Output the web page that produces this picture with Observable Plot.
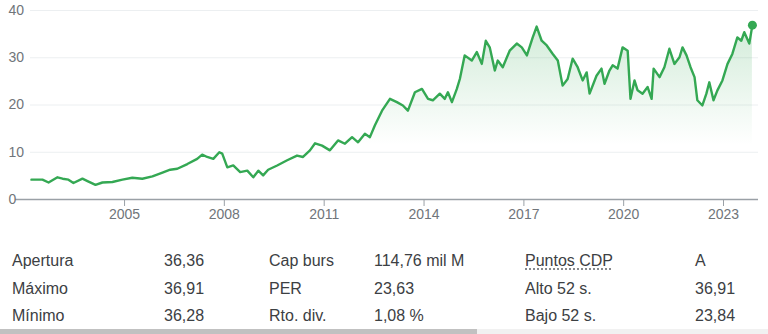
<!DOCTYPE html>
<html><head><meta charset="utf-8">
<script src="https://cdn.jsdelivr.net/npm/d3@7"></script>
<script src="https://cdn.jsdelivr.net/npm/@observablehq/plot@0.6"></script>
<style>
html,body{margin:0;padding:0;background:#fff;width:768px;height:334px;overflow:hidden;font-family:"Liberation Sans",Arial,sans-serif;}
#wrap{position:relative;width:768px;height:334px;}
#chart{position:absolute;left:0;top:0;}
.cell{position:absolute;font-size:16px;line-height:16px;color:#3c4043;white-space:nowrap;}
.dotted{text-decoration:underline dotted #5f6368;text-underline-offset:3px;}
#sb{position:absolute;left:0;top:329px;width:768px;height:5px;background:#f1f1f1;}
#sbt{position:absolute;left:0;top:0;width:477px;height:5px;background:#c1c1c1;}
</style></head>
<body>
<div id="wrap"><div id="chart"></div><div id="table"></div><div id="sb"><div id="sbt"></div></div></div>
<script>
const dates = [
"2002-03-16","2002-07-15","2002-09-20","2002-12-27","2003-02-21","2003-04-26","2003-06-20","2003-09-27","2003-11-21",
"2004-02-17","2004-05-03","2004-08-21","2004-12-09","2005-03-27","2005-07-15","2005-11-03","2006-02-21","2006-05-17",
"2006-08-03","2006-11-21","2007-03-09","2007-05-03","2007-06-27","2007-09-02","2007-11-07","2007-12-09","2008-02-03",
"2008-04-08","2008-06-23","2008-09-09","2008-11-14","2009-01-08","2009-03-02","2009-04-26","2009-08-03","2009-11-21",
"2010-03-09","2010-05-14","2010-07-29","2010-09-23","2010-12-09","2011-03-05","2011-06-02","2011-08-17","2011-11-03",
"2012-01-08","2012-03-23","2012-05-17","2012-07-11","2012-09-27","2012-12-23","2013-03-09","2013-05-14","2013-07-08",
"2013-09-23","2013-12-09","2014-02-14","2014-04-08","2014-06-23","2014-08-17","2014-09-20","2014-11-03","2014-12-27",
"2015-01-29","2015-03-23","2015-06-09","2015-08-03","2015-09-27","2015-11-10","2015-12-23","2016-02-17","2016-03-20",
"2016-05-14","2016-07-29","2016-10-15","2016-12-09","2017-02-03","2017-04-08","2017-05-21","2017-07-15","2017-09-09",
"2017-11-14","2018-01-08","2018-03-02","2018-04-26","2018-06-20","2018-08-14","2018-10-08","2018-11-21","2018-12-23",
"2019-03-09","2019-05-03","2019-06-05","2019-07-29","2019-09-02","2019-10-26","2019-12-20","2020-02-14","2020-03-16",
"2020-04-29","2020-06-02","2020-07-26","2020-09-20","2020-11-03","2020-11-25","2021-01-29","2021-03-23","2021-05-17",
"2021-07-11","2021-09-05","2021-10-08","2021-11-21","2022-01-04","2022-02-17","2022-03-20","2022-05-14","2022-06-27",
"2022-07-29","2022-09-13","2022-10-26","2022-12-20","2023-02-14","2023-04-08","2023-06-02","2023-07-15","2023-08-17",
"2023-10-11","2023-11-14"];
const prices = [
4.2,4.2,3.6,4.7,4.4,4.2,3.5,4.4,3.9,
3.1,3.6,3.7,4.2,4.6,4.4,4.9,5.7,6.3,
6.5,7.5,8.6,9.5,9.0,8.6,10.0,9.7,6.8,
7.2,5.8,6.1,4.7,6.1,5.1,6.3,7.2,8.3,
9.3,9.0,10.4,11.9,11.4,10.4,12.5,11.8,13.2,
12.1,13.9,13.2,15.7,18.8,21.3,20.6,19.9,18.8,
22.7,23.4,21.3,21.0,22.4,21.3,22.7,20.6,23.4,
25.5,30.5,29.4,31.2,28.7,33.6,32.2,27.3,29.4,
28.0,31.5,33.0,32.2,30.5,34.3,36.6,33.6,32.6,
30.8,29.4,24.1,25.5,29.8,28.0,25.2,26.9,22.4,
26.2,27.7,24.5,27.3,28.4,27.7,32.2,31.5,21.3,
25.2,23.1,22.4,23.8,21.3,27.7,25.9,28.0,31.9,
28.7,30.1,32.2,30.5,28.0,25.9,21.0,19.9,22.4,
24.8,21.0,23.1,25.2,28.7,30.8,34.3,33.6,35.4,
33.0,36.9];
const yTicks = [0,10,20,30,40];
const xTickYears = [2005,2008,2011,2014,2017,2020,2023];

const statLabels1 = ["Apertura","Máximo","Mínimo"];
const statValues1 = ["36,36","36,91","36,28"];
const statLabels2 = ["Cap burs","PER","Rto. div."];
const statValues2 = ["114,76 mil M","23,63","1,08 %"];
const statLabels3 = ["Puntos CDP","Alto 52 s.","Bajo 52 s."];
const statValues3 = ["A","36,91","23,84"];

const parse = d3.utcParse("%Y-%m-%d");
const data = dates.map((d,i)=>({date:parse(d), price:prices[i]}));
const last = data[data.length-1];
const xTicks = xTickYears.map(y=>new Date(Date.UTC(y,0,1)));
const green = "#34a853";

const chart = Plot.plot({
  width:768, height:230,
  marginLeft:15, marginRight:10, marginTop:10, marginBottom:31,
  style:{fontFamily:'"Liberation Sans", Arial, sans-serif', fontSize:"14px", color:"#70757a", background:"transparent", overflow:"visible"},
  x:{type:"utc", domain:[parse("2001-09-22"), parse("2024-01-20")], label:null},
  y:{domain:[0,40], label:null},
  marks:[
    Plot.gridY(yTicks.filter(v=>v>0), {stroke:"#eceff1", strokeOpacity:1, insetLeft:15}),
    Plot.areaY(data, {x:"date", y:"price", fill:"url(#gfill)"}),
    Plot.ruleY([0], {stroke:"#9aa0a6", strokeWidth:1.5}),
    Plot.axisX(xTicks, {tickSize:7, tickPadding:3, stroke:"#9aa0a6", fill:"#70757a", label:null, tickFormat:d3.utcFormat("%Y")}),
    Plot.axisY(yTicks, {tickSize:0, tickPadding:0, textAnchor:"start", dx:-7, fill:"#70757a", label:null}),
    Plot.lineY(data, {x:"date", y:"price", stroke:green, strokeWidth:2.4, strokeLinejoin:"round"}),
    Plot.dot([last], {x:"date", y:"price", r:4.5, fill:green, stroke:"none"})
  ]
});
const ns="http://www.w3.org/2000/svg";
const defs=document.createElementNS(ns,"defs");
defs.innerHTML='<linearGradient id="gfill" gradientUnits="userSpaceOnUse" x1="0" y1="25" x2="0" y2="145"><stop offset="0" stop-color="#34a853" stop-opacity="0.22"/><stop offset="1" stop-color="#34a853" stop-opacity="0"/></linearGradient>';
chart.prepend(defs);
document.getElementById("chart").appendChild(chart);

const table = document.getElementById("table");
const cols = [[statLabels1,12],[statValues1,164],[statLabels2,269],[statValues2,374],[statLabels3,525],[statValues3,695]];
const rowTops = [253,281,308];
cols.forEach(([arr,x],ci)=>{
  arr.forEach((t,ri)=>{
    const d=document.createElement("div");
    d.className="cell"+(ci===4&&ri===0?" dotted":"");
    d.style.left=x+"px"; d.style.top=rowTops[ri]+"px";
    d.textContent=t;
    table.appendChild(d);
  });
});
</script>
</body></html>
